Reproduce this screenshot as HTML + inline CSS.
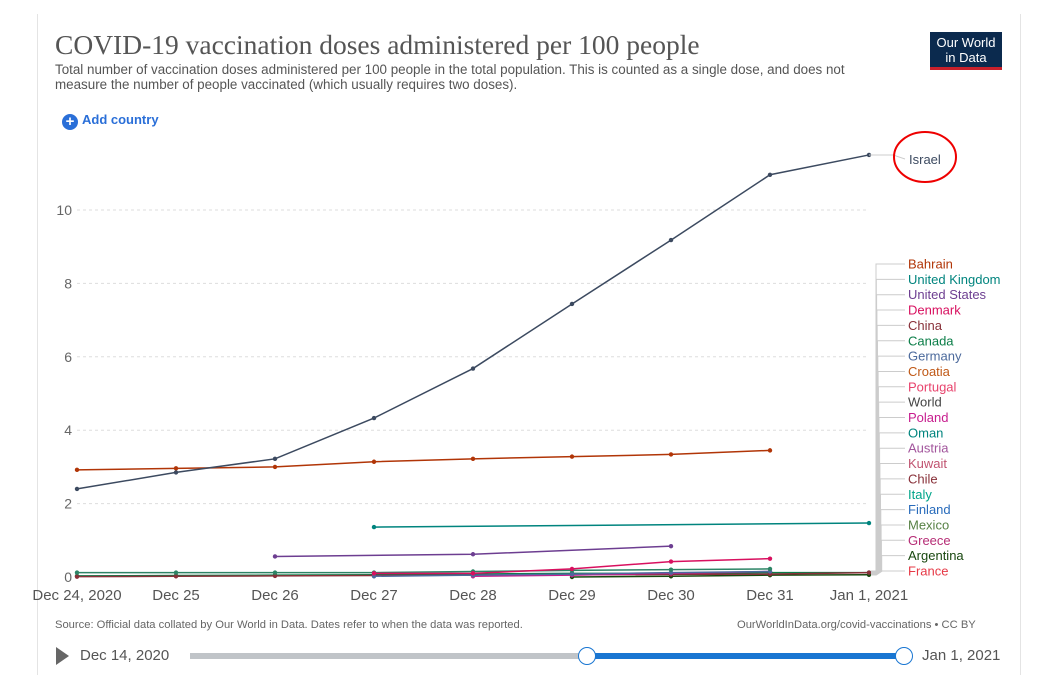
<!DOCTYPE html>
<html><head><meta charset="utf-8"><style>
body{margin:0;background:#fff;font-family:"Liberation Sans",sans-serif;}
.frame{position:absolute;left:0;top:0;width:1059px;height:675px;overflow:hidden;}
</style></head><body>
<div class="frame">
<div style="position:absolute;left:37px;top:14px;width:982px;height:661px;border-left:1px solid #e4e4e4;border-right:1px solid #e4e4e4;"></div>
<div style="position:absolute;left:55px;top:29px;font-family:'Liberation Serif',serif;font-size:27.5px;color:#555;">COVID-19 vaccination doses administered per 100 people</div>
<div style="position:absolute;left:55px;top:62px;width:840px;font-size:13.4px;line-height:15px;color:#555;">Total number of vaccination doses administered per 100 people in the total population. This is counted as a single dose, and does not measure the number of people vaccinated (which usually requires two doses).</div>
<div style="position:absolute;left:930px;top:32px;width:72px;height:38px;background:#0b2a4e;color:#fff;font-size:13px;line-height:15px;text-align:center;padding-top:3px;box-sizing:border-box;border-bottom:3px solid #c8202b;">Our World<br>in Data</div>
<div style="position:absolute;left:62px;top:112px;font-size:13px;font-weight:bold;color:#2a6fd8;"><span style="display:inline-block;width:16px;height:16px;border-radius:8px;background:#2a6fd8;color:#fff;text-align:center;line-height:16px;font-size:15px;vertical-align:-2px;margin-right:4px;">+</span>Add country</div>
<svg id="chart" width="1059" height="675" style="position:absolute;left:0;top:0"></svg>
<div style="position:absolute;left:55px;top:619px;font-size:11.2px;color:#666;">Source: Official data collated by Our World in Data. Dates refer to when the data was reported.</div>
<div style="position:absolute;left:737px;top:619px;font-size:11.2px;color:#666;">OurWorldInData.org/covid-vaccinations • CC BY</div>
<div style="position:absolute;left:56px;top:647px;width:0;height:0;border-left:13px solid #666;border-top:9px solid transparent;border-bottom:9px solid transparent;"></div>
<div style="position:absolute;left:80px;top:647px;font-size:15px;color:#555;">Dec 14, 2020</div>
<div style="position:absolute;left:190px;top:653px;width:714px;height:6px;background:#c0c4c8;"></div>
<div style="position:absolute;left:587px;top:653px;width:317px;height:6px;background:#1976d2;"></div>
<div style="position:absolute;left:578px;top:647px;width:16px;height:16px;border-radius:9px;border:1px solid #1976d2;background:#fff;"></div>
<div style="position:absolute;left:895px;top:647px;width:16px;height:16px;border-radius:9px;border:1px solid #1976d2;background:#fff;"></div>
<div style="position:absolute;left:922px;top:647px;font-size:15px;color:#555;">Jan 1, 2021</div>
</div>
<script>
const dates=["Dec 24, 2020","Dec 25","Dec 26","Dec 27","Dec 28","Dec 29","Dec 30","Dec 31","Jan 1, 2021"];
const yTicks=[0,2,4,6,8,10];
const israel=[2.4,2.85,3.22,4.33,5.68,7.44,9.18,10.96,11.5];
const bahrain=[2.92,2.96,3.0,3.14,3.22,3.28,3.34,3.45,null];
const uk=[null,null,null,1.36,null,null,null,null,1.47];
const us=[null,null,0.56,null,0.62,null,0.84,null,null];
const denmark=[null,null,null,0.1,0.1,0.22,0.42,0.5,null];
const china=[0.12,0.12,0.12,0.12,0.15,0.18,0.2,0.22,null];
const germany=[null,null,null,0.02,0.05,0.08,0.12,0.15,null];
const poland=[null,null,null,null,0.02,0.05,0.1,0.15,null];
const chile=[0.01,0.02,0.03,0.04,0.05,0.06,0.07,0.08,0.12];
const canada=[0.03,0.04,0.05,0.06,0.08,0.1,0.1,0.12,0.12];
const argentina=[null,null,null,null,null,0.0,0.02,0.05,0.06];
const seriesList=[["israel",israel,"#3c4a60"],["bahrain",bahrain,"#b13507"],["united-kingdom",uk,"#00847e"],["united-states",us,"#6d3e91"],["denmark",denmark,"#d8105f"],["china",china,"#2c8465"],["germany",germany,"#4c6a9c"],["poland",poland,"#c71d8e"],["chile",chile,"#883039"],["canada",canada,"#0a7d47"],["argentina",argentina,"#18470f"]];
const legendNames=["Bahrain","United Kingdom","United States","Denmark","China","Canada","Germany","Croatia","Portugal","World","Poland","Oman","Austria","Kuwait","Chile","Italy","Finland","Mexico","Greece","Argentina","France"];
const legendColors=["#b13507","#00847e","#6d3e91","#d8105f","#883039","#0a7d47","#4c6a9c","#c05917","#e8426c","#444","#c71d8e","#00847e","#a2559c","#c05370","#883039","#00a58a","#286bbb","#578145","#b62d76","#18470f","#e63946"];
const NS="http://www.w3.org/2000/svg",svg=document.getElementById("chart");
const x=i=>77+i*99, y=v=>577-v*36.7;
function mk(t,a){const e=document.createElementNS(NS,t);for(const k in a)e.setAttribute(k,a[k]);svg.appendChild(e);return e;}
yTicks.forEach(v=>{
 if(v>0){const g=mk("line",{x1:77,x2:869,y1:y(v),y2:y(v),stroke:"#ddd","stroke-dasharray":"3,3"});
 
 }
 const t=mk("text",{x:72,y:y(v)+5,"text-anchor":"end","font-size":14,fill:"#666"});t.textContent=v;
 
 
});
dates.forEach((d,i)=>{const t=mk("text",{x:x(i),y:600,"text-anchor":"middle","font-size":15,fill:"#555"});t.textContent=d;
 
 });
for(let k=seriesList.length-1;k>=0;k--){const [nm,vals,col]=seriesList[k];
 const pts=[];vals.forEach((v,i)=>{if(v!==null)pts.push([x(i),y(v)]);});
 const p=mk("polyline",{points:pts.map(q=>q.join(",")).join(" "),fill:"none",stroke:col,"stroke-width":1.5});
 
 
 pts.forEach(q=>{const c=mk("circle",{cx:q[0],cy:q[1],r:2.2,fill:col});
 
 });
}
const il=mk("polyline",{points:`${x(8)},${y(11.5)} 893,${y(11.5)} 905,159`,fill:"none",stroke:"#ccc"});


const it=mk("text",{x:909,y:164,"font-size":13,fill:"#3c4a60"});it.textContent="Israel";


const ell=mk("ellipse",{cx:925,cy:157,rx:31,ry:25,fill:"none",stroke:"#e00",["stroke-width"]:2});


legendNames.forEach((n,i)=>{const ly=264+i*15.35;const bx=876+i*0.3;
 const l=mk("polyline",{points:`871,${575-i*0.2} ${bx},${575-i*0.2} ${bx},${ly} 905,${ly}`,fill:"none",stroke:"#ccc"});
 
 
 const t=mk("text",{x:908,y:ly+4.5,"font-size":13,fill:legendColors[i]});t.textContent=n;
 
 
});
</script>
</body></html>
